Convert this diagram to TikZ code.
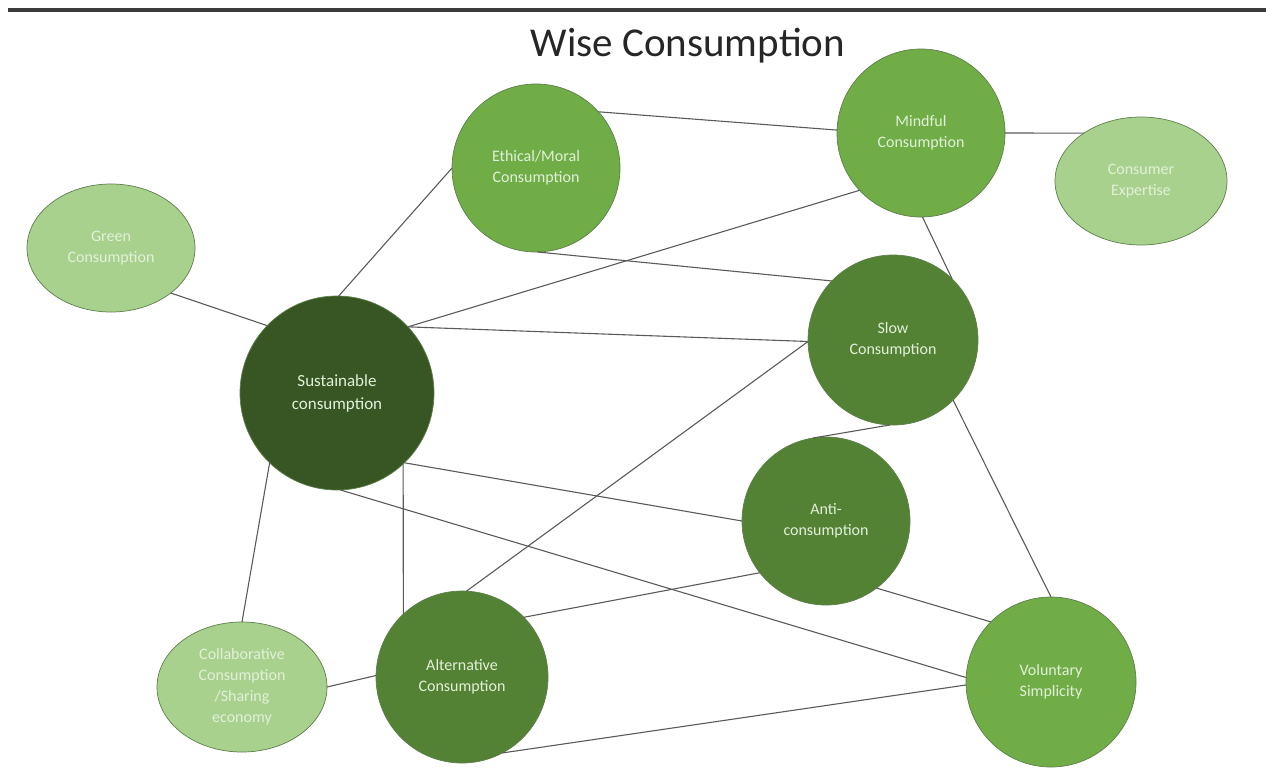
\documentclass[tikz,border=0pt]{standalone}
\usepackage{fontspec}
\setmainfont{Carlito}
\usetikzlibrary{shapes.geometric}
\definecolor{dkgreen}{HTML}{375623}
\definecolor{midgreen}{HTML}{548235}
\definecolor{accgreen}{HTML}{70AD47}
\definecolor{ltgreen}{HTML}{A9D18E}
\definecolor{nodetext}{HTML}{E2F0D9}
\definecolor{nodeline}{HTML}{5E7F4A}
\definecolor{linkc}{HTML}{5A5A5A}
\definecolor{rulec}{HTML}{3A3A3A}
\definecolor{titlec}{HTML}{262626}
\begin{document}
\begin{tikzpicture}[x=1pt,y=-1pt,
  every node/.style={inner sep=0pt, outer sep=0pt},
  bubble/.style={circle, draw=nodeline, line width=0.7pt, text=nodetext, align=center,
    font=\fontsize{16}{21}\selectfont},
  oval/.style={ellipse, draw=nodeline, line width=0.7pt, fill=ltgreen, text=nodetext, align=center,
    font=\fontsize{16}{21}\selectfont},
  link/.style={draw=linkc, line width=1.1pt}]
\useasboundingbox (0,0) rectangle (1266,780);
% top rule and title
\coordinate (rl) at (8,10);
\coordinate (rr) at (1266,10);
\draw[rulec, line width=4pt] (rl) -- (rr);
\node[font=\fontsize{41}{48}\selectfont, text=titlec, anchor=base] (title) at (688,56) {Wise Consumption};
% nodes
\node[oval, minimum width=168pt, minimum height=128pt] (green) at (111,248) {Green\\Consumption};
\node[oval, minimum width=172pt, minimum height=128pt] (cons) at (1141,181) {Consumer\\Expertise};
\node[oval, minimum width=170pt, minimum height=130pt] (collab) at (242,687) {Collaborative\\Consumption\\/Sharing\\economy};
\node[bubble, fill=dkgreen, minimum size=194pt, font=\fontsize{17}{23}\selectfont] (sus) at (337,393) {Sustainable\\consumption};
\node[bubble, fill=accgreen, minimum size=168pt] (eth) at (536,168) {Ethical/Moral\\Consumption};
\node[bubble, fill=accgreen, minimum size=168pt] (mind) at (921,133) {Mindful\\Consumption};
\node[bubble, fill=midgreen, minimum size=170pt] (slow) at (893,340) {Slow\\Consumption};
\node[bubble, fill=midgreen, minimum size=168pt] (anti) at (826,521) {Anti-\\consumption};
\node[bubble, fill=midgreen, minimum size=172pt] (alt) at (462,677) {Alternative\\Consumption};
\node[bubble, fill=accgreen, minimum size=170pt] (vol) at (1051,682) {Voluntary\\Simplicity};
% links
\draw[link] (green.-37) -- (sus.136);
\draw[link] (sus.89) -- (eth.180);
\draw[link] (sus.43) -- (mind.223);
\draw[link] (sus.43) -- (slow.181);
\draw[link] (eth.42) -- (mind.178);
\draw[link] (eth.-89) -- (slow.136);
\draw[link] (mind.0) -- (cons.140);
\draw[link] (mind.-89) -- (slow.46);
\draw[link] (slow.-92) -- (anti.99);
\draw[link] (slow.181) -- (alt.87);
\draw[link] (slow.-45) -- (vol.90);
\draw[link] (sus.-46) -- (anti.180);
\draw[link] (sus.-88) -- (vol.177);
\draw[link] (sus.-47) -- (alt.133);
\draw[link] (sus.-134) -- (collab.90);
\draw[link] (anti.218) -- (alt.44);
\draw[link] (anti.-53) -- (vol.135);
\draw[link] (alt.179) -- (collab.0);
\draw[link] (alt.-62) -- (vol.182);
\end{tikzpicture}
\end{document}
